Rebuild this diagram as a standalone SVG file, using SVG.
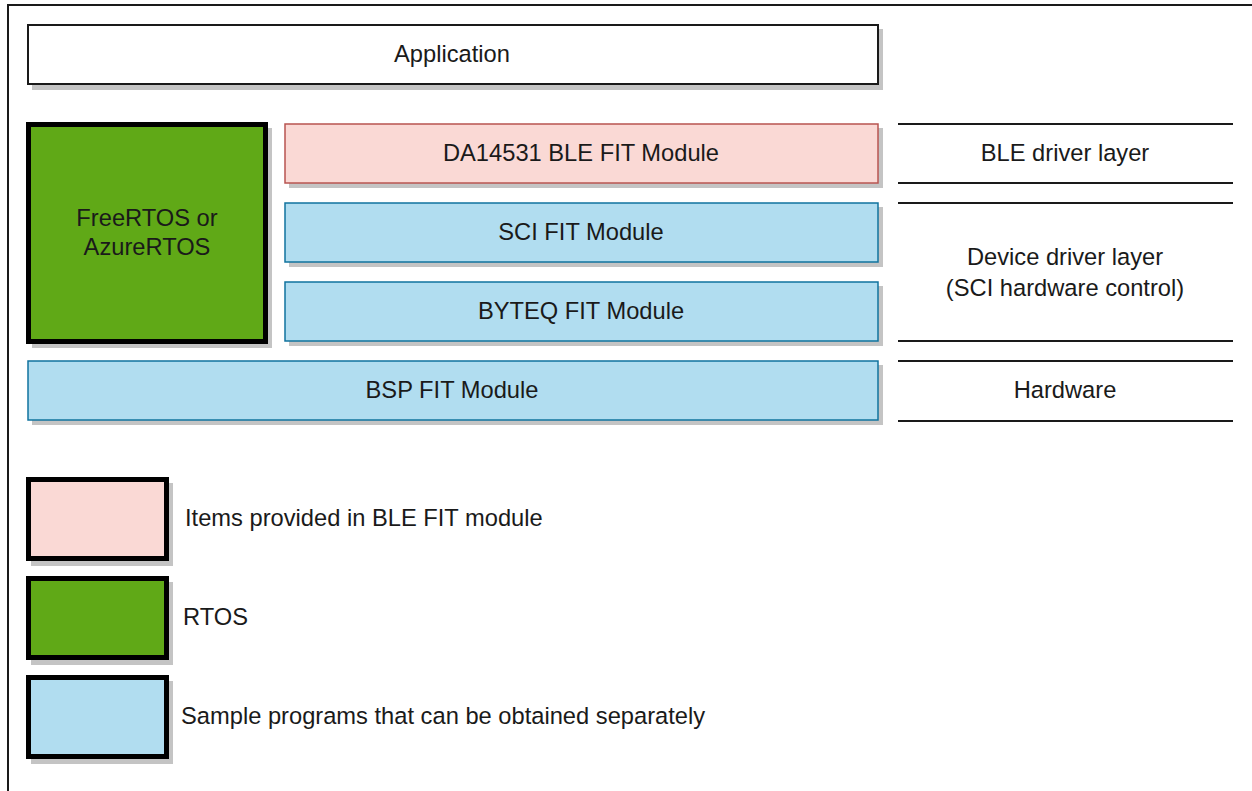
<svg xmlns="http://www.w3.org/2000/svg" width="1252" height="791" viewBox="0 0 1252 791">
<style>
text{font-family:"Liberation Sans",Arial,sans-serif;font-size:23.7px;fill:#1a1a1a}
.c{text-anchor:middle}
.sh{fill:#c4c4c4}
.pink{fill:#fad9d5;stroke:#b85450;stroke-width:1.5}
.blue{fill:#b1ddf0;stroke:#10739e;stroke-width:1.5}
.leg{stroke:#000;stroke-width:5}
.ln{stroke:#1a1a1a;stroke-width:2}
</style>
<rect width="1252" height="791" fill="#fff"/>
<path d="M8,791 V5 H1252" fill="none" stroke="#1a1a1a" stroke-width="2"/>

<g id="application">
<rect class="sh" x="32" y="29" width="851" height="61"/>
<rect x="28" y="25" width="850" height="59" fill="#fff" stroke="#1a1a1a" stroke-width="2"/>
<text class="c" x="452" y="62">Application</text>
</g>

<g id="rtos">
<rect class="sh" x="32" y="128" width="240" height="220"/>
<rect x="28.5" y="124.5" width="237" height="217" fill="#60a917" stroke="#000" stroke-width="5"/>
<text class="c" x="147" y="226">FreeRTOS or</text>
<text class="c" x="147" y="255">AzureRTOS</text>
</g>

<g id="ble-fit">
<rect class="sh" x="289" y="128" width="594" height="60"/>
<rect class="pink" x="285" y="124" width="593" height="59"/>
<text class="c" x="581" y="161">DA14531 BLE FIT Module</text>
</g>

<g id="sci-fit">
<rect class="sh" x="289" y="207" width="594" height="60"/>
<rect class="blue" x="285" y="203" width="593" height="59"/>
<text class="c" x="581" y="240">SCI FIT Module</text>
</g>

<g id="byteq-fit">
<rect class="sh" x="289" y="286" width="594" height="60"/>
<rect class="blue" x="285" y="282" width="593" height="59"/>
<text class="c" x="581" y="319">BYTEQ FIT Module</text>
</g>

<g id="bsp-fit">
<rect class="sh" x="32" y="365" width="851" height="60"/>
<rect class="blue" x="28" y="361" width="850" height="59"/>
<text class="c" x="452" y="398">BSP FIT Module</text>
</g>

<g id="layer-ble">
<line class="ln" x1="898" y1="124" x2="1233" y2="124"/>
<line class="ln" x1="898" y1="183" x2="1233" y2="183"/>
<text class="c" x="1065" y="161">BLE driver layer</text>
</g>

<g id="layer-device">
<line class="ln" x1="898" y1="203" x2="1233" y2="203"/>
<line class="ln" x1="898" y1="341" x2="1233" y2="341"/>
<text class="c" x="1065" y="265">Device driver layer</text>
<text class="c" x="1065" y="296">(SCI hardware control)</text>
</g>

<g id="layer-hardware">
<line class="ln" x1="898" y1="361" x2="1233" y2="361"/>
<line class="ln" x1="898" y1="421" x2="1233" y2="421"/>
<text class="c" x="1065" y="398">Hardware</text>
</g>

<g id="legend-ble">
<rect class="sh" x="31" y="483" width="142" height="83"/>
<rect class="leg" x="28.5" y="479.5" width="138" height="79" fill="#fad9d5"/>
<text x="185" y="526">Items provided in BLE FIT module</text>
</g>

<g id="legend-rtos">
<rect class="sh" x="31" y="582" width="142" height="83"/>
<rect class="leg" x="28.5" y="578.5" width="138" height="79" fill="#60a917"/>
<text x="183" y="625">RTOS</text>
</g>

<g id="legend-sample">
<rect class="sh" x="31" y="681" width="142" height="83"/>
<rect class="leg" x="28.5" y="677.5" width="138" height="79" fill="#b1ddf0"/>
<text x="181" y="724">Sample programs that can be obtained separately</text>
</g>

<g id="connectors"></g>
</svg>
